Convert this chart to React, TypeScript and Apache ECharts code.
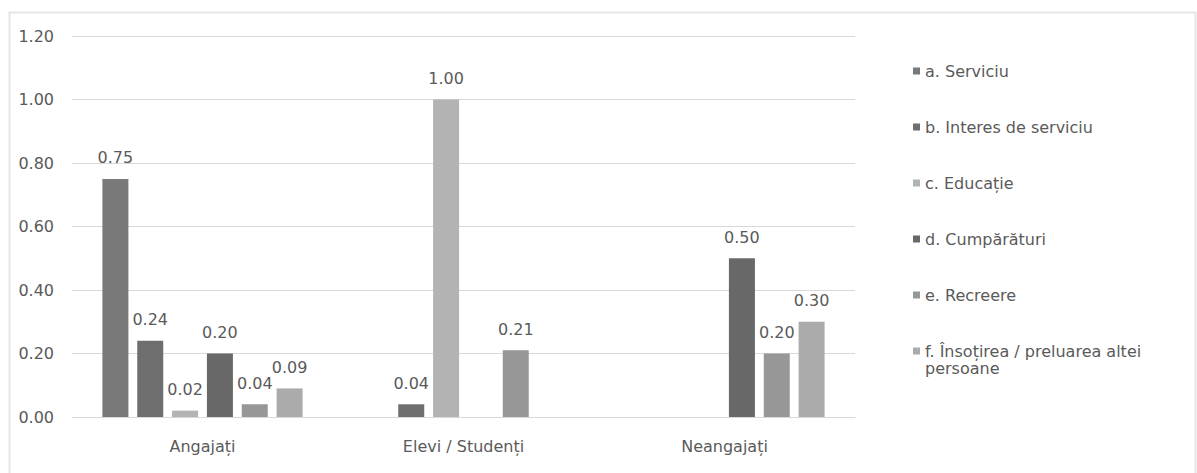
import React, { useEffect, useRef } from "react";
import * as echarts from "echarts";

const categories = ["Angajați", "Elevi / Studenți", "Neangajați"];
const seriesNames = [
  "a. Serviciu",
  "b. Interes de serviciu",
  "c. Educație",
  "d. Cumpărături",
  "e. Recreere",
  "f. Însoțirea / preluarea altei persoane",
];
const serviciu = [0.75, null, null];
const interes = [0.24, 0.04, null];
const educatie = [0.02, 1.0, null];
const cumparaturi = [0.2, null, 0.5];
const recreere = [0.04, 0.21, 0.2];
const insotire = [0.09, null, 0.3];
const yTicks = [0, 0.2, 0.4, 0.6, 0.8, 1.0, 1.2];

const seriesData = [serviciu, interes, educatie, cumparaturi, recreere, insotire];
const colors = ["#797979", "#6e6e6e", "#b3b3b3", "#686868", "#979797", "#ababab"];

const FONT = "'DejaVu Sans', sans-serif";
const TXT = "#5a5a5a";
const FS = 16;

export default function App() {
  const ref = useRef<HTMLDivElement>(null);
  useEffect(() => {
    if (!ref.current) return;
    const chart = echarts.init(ref.current, undefined, { renderer: "svg" });
    chart.setOption({
      animation: false,
      backgroundColor: "#ffffff",
      textStyle: { fontFamily: FONT },
      graphic: [
        {
          type: "rect",
          shape: { x: 9.5, y: 12.5, width: 1186, height: 470 },
          style: { fill: "none", stroke: "#e6e6e6", lineWidth: 2 },
          silent: true,
        },
        {
          type: "text",
          x: 925,
          y: 368,
          silent: true,
          style: {
            text: "persoane",
            fill: TXT,
            font: `${FS}px ${FONT}`,
            verticalAlign: "middle",
            align: "left",
          },
        },
      ],
      grid: { left: 72, right: 342, top: 36, bottom: 56 },
      legend: {
        orient: "vertical",
        left: 908,
        top: 58,
        itemWidth: 7,
        itemHeight: 7,
        itemGap: 40,
        icon: "rect",
        textStyle: { color: TXT, fontSize: FS, fontFamily: FONT, lineHeight: 16 },
        formatter: (name: string) =>
          name === seriesNames[5] ? "f. Însoțirea / preluarea altei" : name,
        data: seriesNames,
      },
      xAxis: {
        type: "category",
        data: categories,
        axisLine: { lineStyle: { color: "#d9d9d9" } },
        axisTick: { show: false },
        axisLabel: { color: TXT, fontSize: FS, margin: 21, fontFamily: FONT },
      },
      yAxis: {
        type: "value",
        min: 0,
        max: yTicks[yTicks.length - 1],
        interval: 0.2,
        axisLine: { show: false },
        axisTick: { show: false },
        splitLine: { lineStyle: { color: "#d9d9d9" } },
        axisLabel: {
          color: TXT,
          fontSize: FS,
          margin: 18,
          fontFamily: FONT,
          formatter: (v: number) => v.toFixed(2),
        },
      },
      series: seriesNames.map((name, i) => ({
        name,
        type: "bar",
        data: seriesData[i],
        barWidth: 26,
        barGap: "34%",
        itemStyle: { color: colors[i] },
        label: {
          show: true,
          position: "top",
          distance: 13,
          color: TXT,
          fontSize: FS,
          fontFamily: FONT,
          formatter: (p: any) => (p.value == null ? "" : Number(p.value).toFixed(2)),
        },
      })),
    });
    return () => chart.dispose();
  }, []);
  return (
    <div
      ref={ref}
      style={{ position: "fixed", left: 0, top: 0, width: 1197, height: 473 }}
    />
  );
}
